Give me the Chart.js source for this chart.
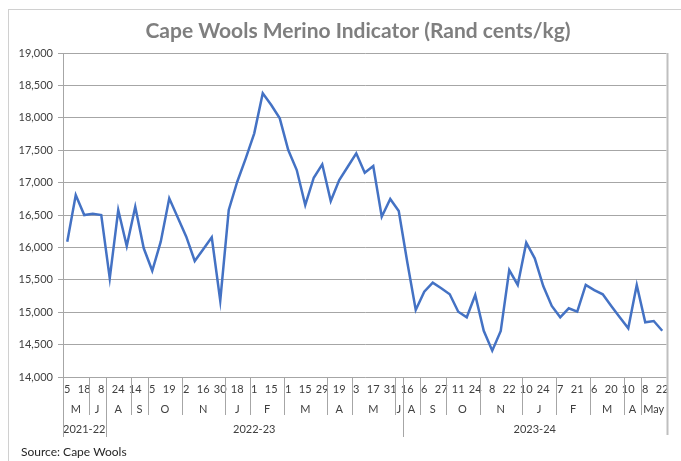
<!DOCTYPE html>
<html>
<head>
<meta charset="utf-8">
<script src="https://cdn.jsdelivr.net/npm/chart.js@4/dist/chart.umd.min.js"></script>
<style>
html,body{margin:0;padding:0;background:#fff;}
canvas{display:block;}
</style>
</head>
<body>
<canvas id="c" width="681" height="461"></canvas>
<script>
// Sale day of each weekly indicator point
const dayLabels = ["5","11","18","1","8","17","24","31","14","28","5","12","19","26","2","9","16","23","30","11","18","25","1","8","15","22","1","8","15","22","29","12","19","26","3","10","17","24","31","7","16","23","6","13","27","4","11","18","24","1","8","15","22","29","10","17","24","31","7","14","21","28","6","13","20","27","10","17","8","15","22"];
// Merino indicator, Rand cents/kg
const indicatorValues = [16088,16808,16500,16520,16500,15523,16577,16021,16628,15986,15640,16088,16757,16460,16165,15790,15970,16155,15177,16577,17013,17374,17760,18378,18197,17992,17503,17194,16654,17075,17282,16716,17040,17245,17452,17152,17256,16473,16747,16561,15775,15034,15316,15455,15369,15276,15008,14921,15265,14714,14406,14710,15651,15420,16072,15832,15404,15096,14921,15060,15008,15420,15342,15276,15096,14921,14751,15420,14844,14864,14714];
// Month groups (second axis row)
const monthNames = ["M","J","A","S","O","N","J","F","M","A","M","J","A","S","O","N","J","F","M","A","May"];
const monthCounts = [3,2,3,2,4,5,3,4,5,3,5,1,2,3,4,5,4,4,4,2,3];
// Season groups (third axis row)
const seasonNames = ["2021-22","2022-23","2023-24"];
const seasonCounts = [5,35,31];
// Y axis
const yMin = 14000, yMax = 19000, yStep = 500;
const chartTitle = "Cape Wools Merino Indicator (Rand cents/kg)";
const sourceText = "Source: Cape Wools";

const FONT = "Lato, 'Open Sans', sans-serif";
const GRID = "#a6a6a6";
const TXT = "#404040";

function boundaryX(xs, k, n) {
  if (k <= 0) return xs.left;
  if (k >= n) return xs.right;
  return (xs.getPixelForValue(k - 1) + xs.getPixelForValue(k)) / 2;
}

const decor = {
  id: 'decor',
  afterDraw(chart) {
    const ctx = chart.ctx;
    const xs = chart.scales.x;
    const area = chart.chartArea;
    const n = dayLabels.length;
    ctx.save();
    // outer chart border
    ctx.strokeStyle = "#d0d0d0";
    ctx.lineWidth = 1;
    ctx.strokeRect(8.5, 9.5, 720, 480);
    // title
    ctx.fillStyle = "#7f7f7f";
    ctx.font = "bold 21px " + FONT;
    ctx.textAlign = "center";
    ctx.textBaseline = "middle";
    ctx.fillText(chartTitle, 358, 31);
    // day labels (every other)
    ctx.fillStyle = TXT;
    ctx.font = "11px " + FONT;
    for (let i = 0; i < n; i += 2) {
      ctx.fillText(dayLabels[i], xs.getPixelForValue(i), area.bottom + 12);
    }
    // month rows
    ctx.strokeStyle = GRID;
    ctx.lineWidth = 1;
    let k = 0;
    monthNames.forEach((m, j) => {
      const x0 = boundaryX(xs, k, n), x1 = boundaryX(xs, k + monthCounts[j], n);
      ctx.fillText(m, (x0 + x1) / 2, area.bottom + 32);
      k += monthCounts[j];
      if (k < n) {
        const bx = Math.round(x1) + 0.5;
        ctx.beginPath(); ctx.moveTo(bx, area.bottom); ctx.lineTo(bx, area.bottom + 38); ctx.stroke();
      }
    });
    // season rows
    k = 0;
    seasonNames.forEach((s, j) => {
      const x0 = boundaryX(xs, k, n), x1 = boundaryX(xs, k + seasonCounts[j], n);
      ctx.fillText(s, (x0 + x1) / 2, area.bottom + 52);
      if (k > 0) {
        const bx = Math.round(x0) + 0.5;
        ctx.beginPath(); ctx.moveTo(bx, area.bottom); ctx.lineTo(bx, area.bottom + 60); ctx.stroke();
      }
      k += seasonCounts[j];
    });
    // left & right table edges
    const lx = Math.round(area.left) + 0.5;
    ctx.beginPath(); ctx.moveTo(lx, area.bottom); ctx.lineTo(lx, area.bottom + 60); ctx.stroke();
    ctx.strokeStyle = "#bfbfbf";
    ctx.lineWidth = 2;
    const rx = Math.round(area.right) + 0.5;
    ctx.beginPath(); ctx.moveTo(rx, area.top); ctx.lineTo(rx, area.bottom + 58); ctx.stroke();
    // source
    ctx.fillStyle = "#262626";
    ctx.font = "12px " + FONT;
    ctx.textAlign = "left";
    ctx.fillText(sourceText, 21, 452);
    ctx.restore();
  }
};

new Chart(document.getElementById('c'), {
  type: 'line',
  data: {
    labels: dayLabels,
    datasets: [{
      data: indicatorValues,
      borderColor: '#4472c4',
      borderWidth: 2.5,
      pointRadius: 0,
      tension: 0,
      fill: false
    }]
  },
  options: {
    responsive: false,
    animation: false,
    devicePixelRatio: 1,
    layout: { padding: { top: 53, left: 8, right: 14.5, bottom: 0 } },
    plugins: { legend: { display: false }, tooltip: { enabled: false }, title: { display: false } },
    scales: {
      x: {
        type: 'category',
        offset: true,
        grid: { display: false, drawTicks: false },
        border: { display: false },
        ticks: { display: false },
        afterFit(s) { s.height = 84; }
      },
      y: {
        min: yMin, max: yMax,
        ticks: { stepSize: yStep, color: TXT, font: { family: FONT, size: 11 }, padding: 5 },
        grid: { color: GRID, lineWidth: 1, tickLength: 5 },
        border: { display: true, color: GRID, width: 1 },
        afterFit(s) { s.width = 55; }
      }
    }
  },
  plugins: [decor]
});
</script>
</body>
</html>
